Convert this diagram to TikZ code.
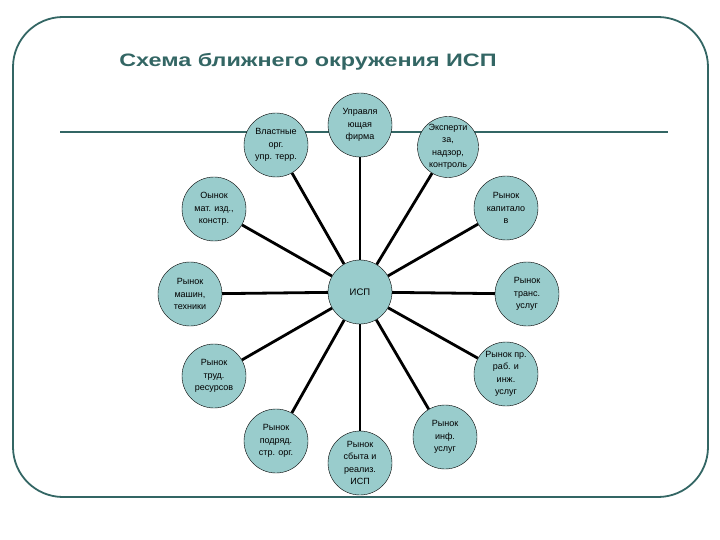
\documentclass[tikz,border=0pt]{standalone}
\usepackage{fontspec}
\setsansfont{Liberation Sans}
\usepackage{tikz}
\usetikzlibrary{calc, backgrounds}
\pgfdeclarelayer{background}
\pgfsetlayers{background,main}

\definecolor{frameTeal}{RGB}{51,102,100}
\definecolor{fillTeal}{RGB}{153,204,204}

\begin{document}
\begin{tikzpicture}[x=1pt, y=-1pt]

    % Sans-serif text
    \sffamily

    % Page size
    \useasboundingbox (0, 0) rectangle (720, 540);

    % Market circles
    \tikzset{nM/.style={draw = black, shape = circle, fill = fillTeal, inner sep = 0pt, minimum size = 64pt, align = center, font = \fontsize{9}{12.5}\selectfont}}
    \tikzset{hub/.style={nM, font = \fontsize{9.5}{11}\selectfont}}

    % Links and frame
    \tikzset{link/.style={draw = black, line width = 2.8pt}}
    \tikzset{bar/.style={draw = frameTeal, line width = 2.6pt}}
    \tikzset{frameLine/.style={draw = frameTeal, line width = 1.8pt, rounded corners = 50pt}}

    % Title
    \node (title) at (308, 62) {\scalebox{1.3}[1]{\fontsize{18}{20}\selectfont\bfseries\color{frameTeal}Схема ближнего окружения ИСП}};

    % Centre
    \node (isp) [hub] at (360, 292) {ИСП};

    % Upper row
    \node (upr) [nM] at (360, 125) {Управля\\ющая\\фирма};
    \node (vlast) [nM] at (276, 145) {Властные\\орг.\\упр. терр.};
    \node (expert) [nM, minimum size = 61pt] at (448, 147) {Эксперти\\за,\\надзор,\\контроль};

    % Sides
    \node (mat) [nM] at (214, 209) {Оынок\\мат. изд.,\\констр.};
    \node (kapit) [nM] at (506, 208) {Рынок\\капитало\\в};
    \node (mash) [nM] at (190, 294) {Рынок\\машин,\\техники};
    \node (trans) [nM] at (527, 294) {Рынок\\транс.\\услуг};
    \node (trud) [nM] at (214, 376) {Рынок\\труд.\\ресурсов};
    \node (inzh) [nM] at (506, 374) {Рынок пр.\\раб. и\\инж.\\услуг};

    % Lower row
    \node (podr) [nM] at (276, 441) {Рынок\\подряд.\\стр. орг.};
    \node (sbyt) [nM] at (360, 463) {Рынок\\сбыта и\\реализ.\\ИСП};
    \node (inf) [nM] at (445, 437) {Рынок\\инф.\\услуг};

    % Bar ends
    \coordinate (barL) at (60, 132);
    \coordinate (barR) at (668, 132);

    % Background image
    \begin{pgfonlayer}{background}

    	% Frame
    	\path[frameLine] (13, 17) rectangle (708, 497);

    	% Bar
    	\path[bar] (barL) -- (barR);

    	% Links
    	\foreach \m in {upr, vlast, expert, mat, kapit, mash, trans, trud, inzh, podr, sbyt, inf}
    		\path[link] (isp) -- (\m);

    \end{pgfonlayer}

\end{tikzpicture}
\end{document}
